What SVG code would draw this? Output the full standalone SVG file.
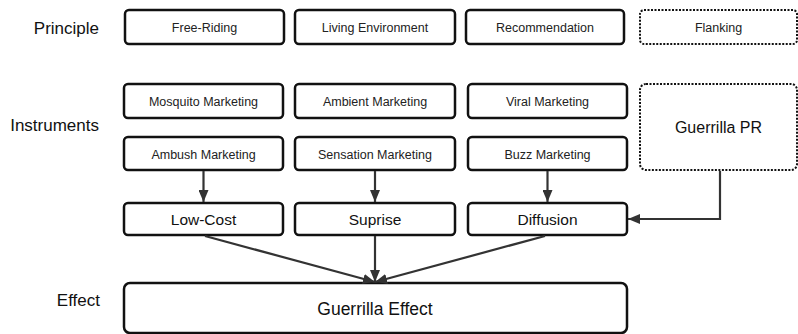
<svg xmlns="http://www.w3.org/2000/svg" width="798" height="334" viewBox="0 0 798 334">
<defs>
<marker id="ah" viewBox="0 0 12 10" refX="12" refY="5" markerWidth="12" markerHeight="10" markerUnits="userSpaceOnUse" orient="auto">
<path d="M0,0 L12,5 L0,10 Z" fill="#333"/>
</marker>
<style>
.box{fill:#fff;stroke:#111;stroke-width:2.5}
.dot{fill:#fff;stroke:#111;stroke-width:2;stroke-dasharray:2,1.5}
.t{font-family:"Liberation Sans",Arial,sans-serif;font-size:12.5px;fill:#222;text-anchor:middle}
.m{font-family:"Liberation Sans",Arial,sans-serif;font-size:15.5px;fill:#111;text-anchor:middle}
.big{font-family:"Liberation Sans",Arial,sans-serif;font-size:16px;fill:#111;text-anchor:middle}
.eff{font-family:"Liberation Sans",Arial,sans-serif;font-size:17.5px;fill:#111;text-anchor:middle}
.lab{font-family:"Liberation Sans",Arial,sans-serif;font-size:17px;fill:#111;text-anchor:end}
.c{fill:none;stroke:#333;stroke-width:2.2}
</style>
</defs>
<rect width="798" height="334" fill="#fff"/>
<g id="labels">
<text class="lab" x="99" y="34">Principle</text>
<text class="lab" x="99" y="131">Instruments</text>
<text class="lab" x="100" y="306">Effect</text>
</g>
<g id="free-riding"><rect class="box" x="125" y="10" width="159" height="34" rx="4"/><text class="t" x="204.5" y="31.5">Free-Riding</text></g>
<g id="living-environment"><rect class="box" x="295" y="10" width="160" height="34" rx="4"/><text class="t" x="375" y="31.5">Living Environment</text></g>
<g id="recommendation"><rect class="box" x="466" y="10" width="158" height="34" rx="4"/><text class="t" x="545" y="31.5">Recommendation</text></g>
<g id="flanking"><rect class="dot" x="640" y="10" width="157" height="34" rx="4"/><text class="t" x="718.5" y="31.5">Flanking</text></g>
<g id="mosquito"><rect class="box" x="124" y="84" width="159" height="34" rx="4"/><text class="t" x="203.5" y="105.5">Mosquito Marketing</text></g>
<g id="ambient"><rect class="box" x="295" y="84" width="160" height="34" rx="4"/><text class="t" x="375" y="105.5">Ambient Marketing</text></g>
<g id="viral"><rect class="box" x="468" y="84" width="159" height="34" rx="4"/><text class="t" x="547.5" y="105.5">Viral Marketing</text></g>
<g id="guerrilla-pr"><rect class="dot" x="640" y="84" width="157" height="86" rx="6"/><text class="big" x="718.5" y="133">Guerrilla PR</text></g>
<g id="ambush"><rect class="box" x="124" y="137" width="159" height="33" rx="4"/><text class="t" x="203.5" y="158.5">Ambush Marketing</text></g>
<g id="sensation"><rect class="box" x="295" y="137" width="160" height="33" rx="4"/><text class="t" x="375" y="158.5">Sensation Marketing</text></g>
<g id="buzz"><rect class="box" x="468" y="137" width="159" height="33" rx="4"/><text class="t" x="547.5" y="158.5">Buzz Marketing</text></g>
<g id="low-cost"><rect class="box" x="124" y="203" width="159" height="32" rx="4"/><text class="m" x="203.5" y="224.5">Low-Cost</text></g>
<g id="suprise"><rect class="box" x="295" y="203" width="160" height="32" rx="4"/><text class="m" x="375" y="224.5">Suprise</text></g>
<g id="diffusion"><rect class="box" x="468" y="203" width="159" height="32" rx="4"/><text class="m" x="547.5" y="224.5">Diffusion</text></g>
<g id="guerrilla-effect"><rect class="box" x="124" y="283" width="503" height="50" rx="6"/><text class="eff" x="375" y="315">Guerrilla Effect</text></g>
<g id="connectors">
<line class="c" x1="203.5" y1="171" x2="203.5" y2="202" marker-end="url(#ah)"/>
<line class="c" x1="375" y1="171" x2="375" y2="202" marker-end="url(#ah)"/>
<line class="c" x1="547.5" y1="171" x2="547.5" y2="202" marker-end="url(#ah)"/>
<polyline class="c" points="720,171 720,219 628,219" marker-end="url(#ah)"/>
<line class="c" x1="205" y1="236" x2="375" y2="282" marker-end="url(#ah)"/>
<line class="c" x1="375" y1="236" x2="375" y2="282" marker-end="url(#ah)"/>
<line class="c" x1="545" y1="236" x2="375" y2="282" marker-end="url(#ah)"/>
</g>
</svg>
